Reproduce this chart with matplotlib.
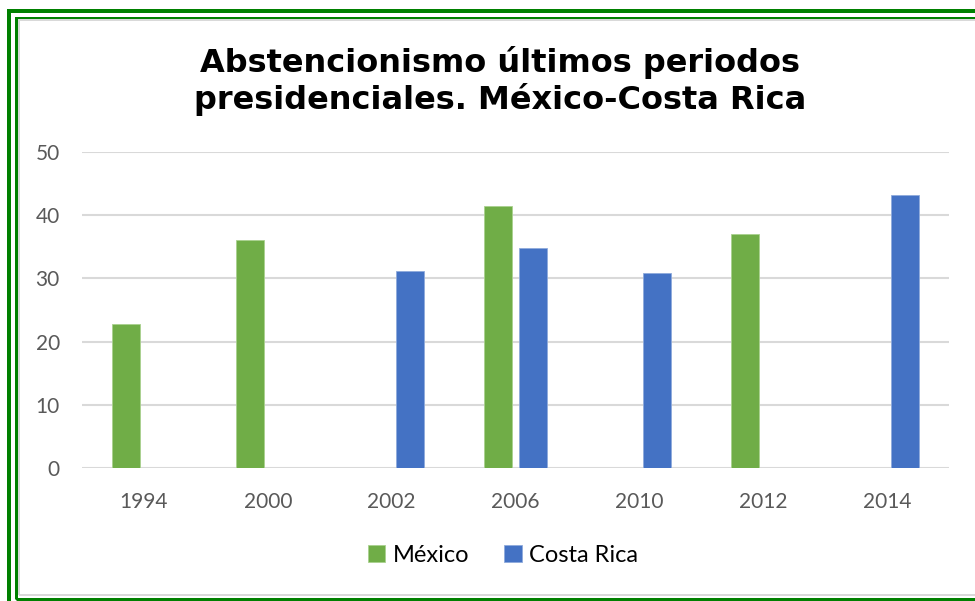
import numpy as np
import matplotlib.pyplot as plt
from matplotlib.patches import Rectangle

# Abstencionismo (%) por periodo presidencial
anios = ["1994", "2000", "2002", "2006", "2010", "2012", "2014"]
mexico = [22.8, 36.0, None, 41.5, None, 37.0, None]
costa_rica = [None, None, 31.2, 34.8, 30.9, None, 43.2]

verde = "#70ad47"
azul = "#4472c4"
W, H = 975, 601

fig = plt.figure(figsize=(W / 100, H / 100), dpi=100)


def px(x, y):
    # pixeles (origen arriba-izquierda) -> fraccion de figura
    return x / W, 1 - y / H


def marco(x0, y0, x1, y1, color, lw):
    ax0, ay1 = px(x0, y1)
    fig.add_artist(Rectangle((ax0, ay1), (x1 - x0) / W, (y1 - y0) / H,
                             transform=fig.transFigure, fill=False,
                             edgecolor=color, linewidth=lw * 0.72, clip_on=False))


# marco verde doble y borde gris del grafico
marco(9, 11, 1040, 660, "#008000", 4)
marco(16, 17.5, 1030, 599, "#008000", 3)
marco(19, 20, 1020, 595, "#d9d9d9", 2)

l, b = px(82, 468)
r, t = px(949, 152)
ax = fig.add_axes([l, b, r - l, t - b])

x = np.arange(len(anios))
ancho = 0.226
desp = 0.145
mx = [i for i, v in enumerate(mexico) if v is not None]
cr = [i for i, v in enumerate(costa_rica) if v is not None]
ax.bar(x[mx] - desp, [mexico[i] for i in mx], ancho, color=verde,
       edgecolor="#a9d18e", linewidth=0.6, label="México", zorder=3)
ax.bar(x[cr] + desp, [costa_rica[i] for i in cr], ancho, color=azul,
       edgecolor="#8faadc", linewidth=0.6, label="Costa Rica", zorder=3)

ax.set_xlim(-0.5, len(anios) - 0.5)
ax.set_ylim(0, 50)
ax.set_yticks(range(0, 51, 10))
ax.set_xticks(x)
ax.set_xticklabels(anios)
ax.yaxis.grid(True, color="#d9d9d9", linewidth=1.5, zorder=0)
ax.set_axisbelow(True)
for s in ax.spines.values():
    s.set_visible(False)
ax.tick_params(length=0, labelsize=15, labelcolor="#595959")
ax.tick_params(axis="x", pad=17)
ax.tick_params(axis="y", pad=16)
for lab in ax.get_xticklabels() + ax.get_yticklabels():
    lab.set_fontfamily("Lato")

fig.text(0.513, 1 - 81 / H, "Abstencionismo últimos periodos\npresidenciales. México-Costa Rica",
         ha="center", va="center", fontsize=23, fontweight="bold",
         linespacing=1.12, fontfamily="DejaVu Sans")

lx, ly = px(503, 555)
leg = fig.legend(loc="center", bbox_to_anchor=(lx, ly), ncol=2, frameon=False,
                 prop={"family": "Lato", "size": 17}, handlelength=0.75,
                 handleheight=0.75, handletextpad=0.3, columnspacing=1.5)

fig.savefig("out.png", dpi=100)
